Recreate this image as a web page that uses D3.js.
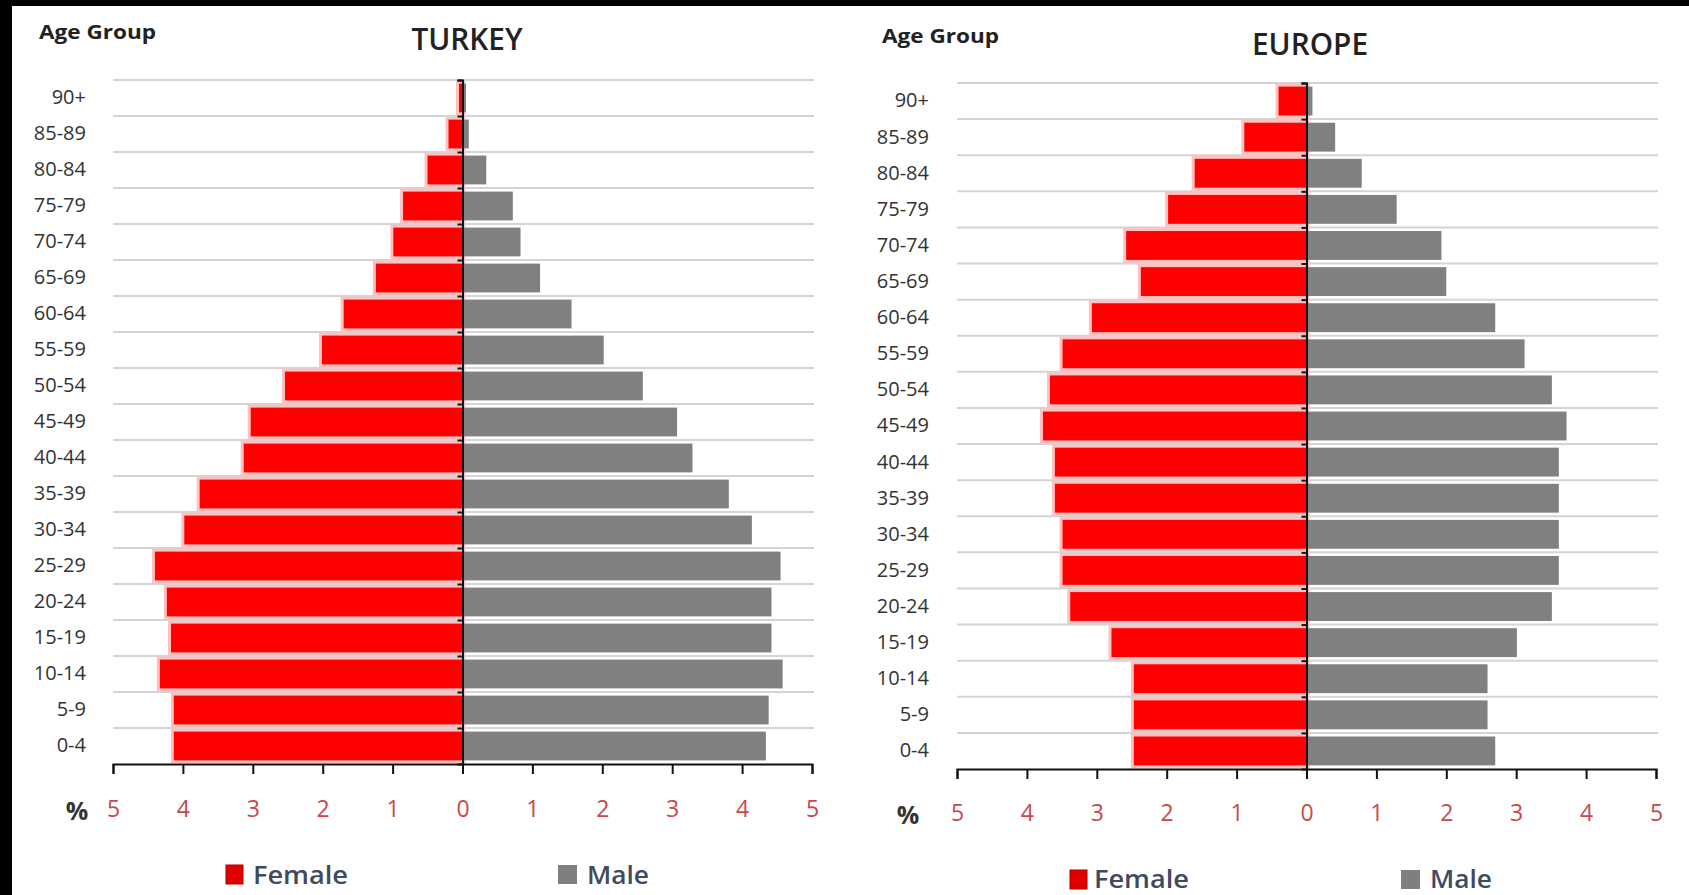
<!DOCTYPE html>
<html>
<head>
<meta charset="utf-8">
<script src="https://cdn.jsdelivr.net/npm/d3@7/dist/d3.min.js"></script>
<style>
  html, body { margin: 0; padding: 0; background: #fff; }
  svg { display: block; }
  text { font-family: "Open Sans", "Noto Sans", sans-serif; }
</style>
</head>
<body>
<svg id="chart" width="1689" height="895"></svg>
<script>
// ---------------- DATA ----------------
const ageGroups = ["0-4","5-9","10-14","15-19","20-24","25-29","30-34","35-39","40-44","45-49",
                   "50-54","55-59","60-64","65-69","70-74","75-79","80-84","85-89","90+"];
const turkeyFemale = [4.13,4.13,4.33,4.17,4.23,4.40,3.98,3.76,3.13,3.03,2.54,2.01,1.70,1.24,0.99,0.85,0.50,0.20,0.05];
const turkeyMale   = [4.34,4.38,4.58,4.42,4.42,4.55,4.14,3.81,3.29,3.07,2.58,2.02,1.56,1.11,0.83,0.72,0.34,0.09,0.05];
const europeFemale = [2.47,2.47,2.47,2.79,3.38,3.49,3.49,3.60,3.60,3.77,3.67,3.49,3.07,2.37,2.58,1.98,1.60,0.89,0.40];
const europeMale   = [2.70,2.59,2.59,3.01,3.51,3.61,3.61,3.61,3.61,3.72,3.51,3.12,2.70,2.00,1.93,1.29,0.79,0.41,0.085];
const xTicks = [-5,-4,-3,-2,-1,0,1,2,3,4,5];
const titles = ["TURKEY","EUROPE"];
const legendLabels = ["Female","Male"];
const colors = { female: "#ff0000", male: "#808080" };

// ---------------- LAYOUT ----------------
const svg = d3.select("#chart");
svg.append("rect").attr("x",0).attr("y",0).attr("width",1689).attr("height",895).attr("fill","#fff");
svg.append("rect").attr("x",0).attr("y",0).attr("width",1689).attr("height",6).attr("fill","#000");
svg.append("rect").attr("x",0).attr("y",0).attr("width",12).attr("height",895).attr("fill","#000");

const panels = [
  { title: titles[0], female: turkeyFemale, male: turkeyMale,
    x0: 113, x1: 812, top: 80, bottom: 764, labelRight: 86,
    titleX: 467, titleY: 50, titleW: 111, ageX: 39, ageY: 39,
    tickY: 817, pctX: 77, pctY: 820,
    legY: 865, legF: 226, legFT: 253, legM: 558, legMT: 587, legBase: 884 },
  { title: titles[1], female: europeFemale, male: europeMale,
    x0: 957, x1: 1656, top: 83, bottom: 769, labelRight: 929,
    titleX: 1310, titleY: 55, titleW: 116, ageX: 882, ageY: 43,
    tickY: 821, pctX: 908, pctY: 824,
    legY: 870, legF: 1070, legFT: 1094, legM: 1401, legMT: 1430, legBase: 888 }
];

panels.forEach(p => {
  const g = svg.append("g");
  const x = d3.scaleLinear().domain([-5, 5]).range([p.x0, p.x1]);
  const y = d3.scaleBand().domain(ageGroups.slice().reverse()).range([p.top, p.bottom])
              .paddingInner(0.2).paddingOuter(0.1);
  const yb = d3.scaleLinear().domain([0, ageGroups.length]).range([p.top, p.bottom]);

  // grid lines at band boundaries
  g.append("g").selectAll("line").data(d3.range(0, ageGroups.length)).join("line")
    .attr("x1", x(-5)).attr("x2", x(5) + 2)
    .attr("y1", d => yb(d)).attr("y2", d => yb(d))
    .attr("stroke", "#d4d4d4").attr("stroke-width", 2);

  const rows = ageGroups.map((a, i) => ({ age: a, f: p.female[i], m: p.male[i] }));

  // female halo
  g.append("g").selectAll("rect").data(rows).join("rect")
    .attr("x", d => x(-d.f)).attr("width", d => x(0) - x(-d.f))
    .attr("y", d => y(d.age)).attr("height", y.bandwidth())
    .attr("fill", "#ffc0c0").attr("stroke", "#ffc0c0").attr("stroke-width", 6);
  // female bars
  g.append("g").selectAll("rect").data(rows).join("rect")
    .attr("x", d => x(-d.f)).attr("width", d => x(0) - x(-d.f))
    .attr("y", d => y(d.age)).attr("height", y.bandwidth())
    .attr("fill", colors.female);
  // male bars
  g.append("g").selectAll("rect").data(rows).join("rect")
    .attr("x", x(0)).attr("width", d => x(d.m) - x(0))
    .attr("y", d => y(d.age)).attr("height", y.bandwidth())
    .attr("fill", colors.male);

  // center vertical axis with small ticks at band boundaries
  const vAxis = d3.axisLeft(yb).tickValues(d3.range(0, ageGroups.length)).tickSize(5).tickFormat("");
  const va = g.append("g").attr("transform", `translate(${x(0)},0)`).call(vAxis);
  va.select(".domain").attr("stroke", "#111").attr("stroke-width", 2);
  va.selectAll(".tick line").attr("stroke", "#111").attr("stroke-width", 2);

  // category labels
  const cAxis = d3.axisLeft(y).tickSize(0).tickPadding(0);
  const ca = g.append("g").attr("transform", `translate(${p.labelRight},0)`).call(cAxis);
  ca.select(".domain").remove();
  ca.selectAll("text").attr("font-family", "'Open Sans', sans-serif")
    .attr("font-size", 20).attr("fill", "#333");

  // bottom axis
  const xAxis = d3.axisBottom(x).tickValues(xTicks).tickSize(10).tickFormat(d => Math.abs(d));
  const xa = g.append("g").attr("transform", `translate(0,${p.bottom})`).call(xAxis);
  xa.select(".domain").attr("stroke", "#111").attr("stroke-width", 2);
  xa.selectAll(".tick line").attr("stroke", "#111").attr("stroke-width", 2);
  xa.selectAll("text").attr("font-family", "'Open Sans', sans-serif")
    .attr("font-size", 23).attr("fill", "#c64a4d")
    .attr("dy", null).attr("y", p.tickY - p.bottom);

  // % label
  g.append("text").attr("x", p.pctX).attr("y", p.pctY).attr("text-anchor", "middle")
    .attr("font-size", 25).attr("font-weight", 700).attr("fill", "#333").text("%");

  // title
  g.append("text").attr("x", p.titleX).attr("y", p.titleY).attr("text-anchor", "middle")
    .attr("font-size", 30).attr("font-weight", 600).attr("fill", "#222")
    .attr("textLength", p.titleW).attr("lengthAdjust", "spacingAndGlyphs").text(p.title);

  // Age Group
  g.append("text").attr("x", p.ageX).attr("y", p.ageY)
    .attr("font-size", 19).attr("font-weight", 700).attr("fill", "#222")
    .attr("textLength", 117).attr("lengthAdjust", "spacingAndGlyphs").text("Age Group");

  // legend
  g.append("rect").attr("x", p.legF).attr("y", p.legY).attr("width", 17).attr("height", 19)
    .attr("fill", "#e00000").attr("stroke", "#b00000").attr("stroke-width", 1);
  g.append("text").attr("x", p.legFT).attr("y", p.legBase).attr("font-size", 26)
    .attr("font-weight", 600).attr("fill", "#3e4a5e")
    .attr("textLength", 95).attr("lengthAdjust", "spacingAndGlyphs").text(legendLabels[0]);
  g.append("rect").attr("x", p.legM).attr("y", p.legY).attr("width", 19).attr("height", 19)
    .attr("fill", "#7f7f7f");
  g.append("text").attr("x", p.legMT).attr("y", p.legBase).attr("font-size", 26)
    .attr("font-weight", 600).attr("fill", "#3e4a5e")
    .attr("textLength", 62).attr("lengthAdjust", "spacingAndGlyphs").text(legendLabels[1]);
});
</script>
</body>
</html>
